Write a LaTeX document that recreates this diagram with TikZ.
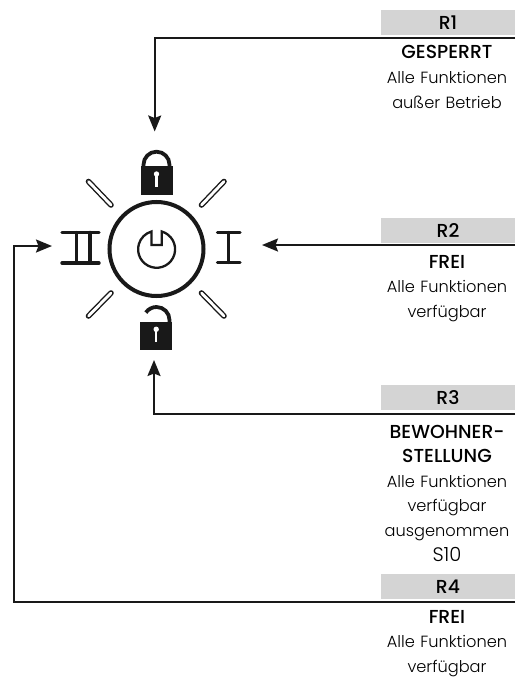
\documentclass[tikz,border=0pt]{standalone}
\usepackage{fontspec}
\setmainfont[BoldFont={Poppins Medium}]{Poppins Light}
\usetikzlibrary{arrows.meta}
\newcommand\hdline[1]{{\fontsize{18.8}{24.6}\selectfont\bfseries #1}}
\newcommand\bigline[1]{{\fontsize{19.5}{24.6}\selectfont #1}}
\tikzset{
 x=1pt,y=-1pt,
 conn/.style={draw=black!90,line width=2pt},
 arrowed/.style={conn,-{Stealth[length=16pt,width=13pt,inset=2.5pt]}},
 hdr/.style={fill=black!17,minimum width=134pt,minimum height=25pt,inner sep=0pt,font=\fontsize{18.8}{18.8}\selectfont\bfseries},
 lbl/.style={align=center,inner sep=0pt,text width=134pt,font=\fontsize{16.2}{24.6}\selectfont},
 sym/.style={draw=black!90,line width=3.4pt,line cap=round},
 pill/.style={draw=black!90,line width=5.6pt,line cap=round},
 pillin/.style={draw=white,line width=2.8pt,line cap=round},
 thin symbol/.style={draw=black!90,line width=2.3pt},
 shackle/.style={draw=black!90,line width=3.8pt},
}
\begin{document}
\begin{tikzpicture}
\useasboundingbox (0,0) rectangle (518,677);
% central dial
\node[circle,draw=black!90,line width=4pt,minimum size=94pt,inner sep=0pt] (dial) at (156.5,249) {};
\draw[thin symbol] (161.7,231.5) arc[start angle=-74,end angle=254,radius=18.5] -- (151.6,245) -- (161.7,245) -- cycle;
% pills
\foreach \xa/\ya/\xb/\yb in {88.5/181.5/111/205, 201.5/205/224/181.5, 111/293/88.5/316, 201.5/293/224/316}{
 \draw[pill] (\xa,\ya) -- (\xb,\yb);
 \draw[pillin] (\xa,\ya) -- (\xb,\yb);
}
% I
\draw[sym] (217.5,232.5) -- (240,232.5) (217.5,262.5) -- (240,262.5) (228.7,232.5) -- (228.7,262.5);
% II
\draw[sym] (62,232.5) -- (99,232.5) (62,263) -- (99,263) (76.5,232.5) -- (76.5,263) (90,232.5) -- (90,263);
% top lock
\node[fill=black!90,minimum width=32pt,minimum height=29.5pt,inner sep=0pt] (lockA) at (156.5,180.5) {};
\draw[shackle] (143.5,166) -- (143.5,164.7) arc[start angle=180,end angle=360,radius=13] -- (169.5,166);
\fill[white] (156.5,174) circle[radius=2.7];
\fill[white] (155.4,175) rectangle (157.6,187);
% bottom lock
\node[fill=black!90,minimum width=32.5pt,minimum height=28.5pt,inner sep=0pt] (lockB) at (156.2,336) {};
\draw[shackle] (169.5,322.5) -- (169.5,320) arc[start angle=0,end angle=-145,radius=13];
\fill[white] (156.2,329.3) circle[radius=2.7];
\fill[white] (155.1,330) rectangle (157.3,342);
% headers and labels
\node[hdr] (r1) at (448,22.5) {R1};
\node[hdr] (r2) at (448,230.5) {R2};
\node[hdr] (r3) at (448,397.5) {R3};
\node[hdr] (r4) at (448,586.5) {R4};
\coordinate (e1) at (515,38.5);
\coordinate (e2) at (515,245);
\coordinate (e3) at (515,413.5);
\coordinate (e4) at (515,601.5);
\coordinate (c1) at (154.7,38.5);
\coordinate (c3) at (154,413.5);
\coordinate (c4a) at (14,601.5);
\coordinate (c4b) at (14,246);
\coordinate (t1) at (154.7,131.5);
\coordinate (t2) at (262,245);
\coordinate (t3) at (154,360);
\coordinate (t4) at (52,246);
\draw[arrowed] (e1) -- (c1) -- (t1);
\draw[arrowed] (e2) -- (t2);
\draw[arrowed] (e3) -- (c3) -- (t3);
\draw[arrowed] (e4) -- (c4a) -- (c4b) -- (t4);
\node[lbl,anchor=base] (l1) at (447,59) {\hdline{GESPERRT}\\Alle Funktionen\\außer Betrieb};
\node[lbl,anchor=base] (l2) at (447,268) {\hdline{FREI}\\Alle Funktionen\\verfügbar};
\node[lbl,anchor=base] (l3) at (447,438) {\hdline{BEWOHNER-}\\\hdline{STELLUNG}\\Alle Funktionen\\verfügbar\\ausgenommen\\\bigline{S10}};
\node[lbl,anchor=base] (l4) at (447,623) {\hdline{FREI}\\Alle Funktionen\\verfügbar};
\end{tikzpicture}
\end{document}
